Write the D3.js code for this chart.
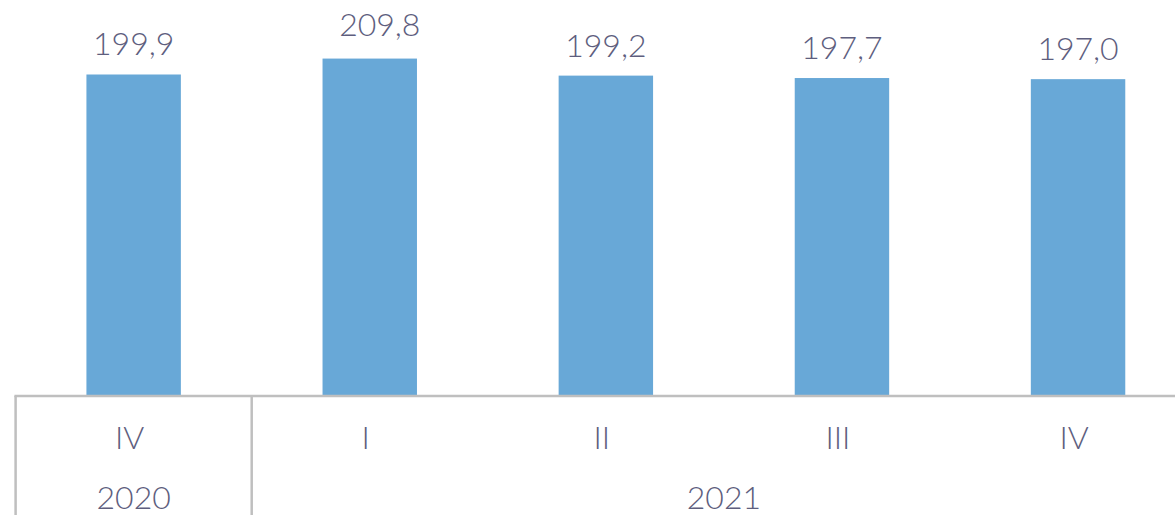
<!DOCTYPE html>
<html>
<head>
<meta charset="utf-8">
<script src="https://cdn.jsdelivr.net/npm/d3@7"></script>
<style>
  html, body { margin: 0; padding: 0; background: #fff; }
  svg { display: block; }
  text { font-family: Lato, "Open Sans", sans-serif; font-weight: 300; fill: #5e5e7e; }
</style>
</head>
<body>
<svg width="1175" height="515"></svg>
<script>
const quarters = ["IV", "I", "II", "III", "IV"]
const values = [199.9, 209.8, 199.2, 197.7, 197.0]
const yearGroups = [
  { year: "2020", from: 0, to: 0 },
  { year: "2021", from: 1, to: 4 },
]

const svg = d3.select("svg")
const width = +svg.attr("width")
const height = +svg.attr("height")

const left = 15.6
const baseline = 396
const step = 236.1

const keys = values.map((v, i) => i)

const x = d3.scaleBand()
  .domain(keys)
  .range([left, left + step * keys.length])
  .paddingInner(0.6)
  .paddingOuter(0.3)

const y = d3.scaleLinear()
  .domain([0, 240])
  .range([baseline, 10])

const fmt = v => d3.format(".1f")(v).replace(".", ",")

// bars
svg.append("g")
  .selectAll("rect")
  .data(values)
  .join("rect")
    .attr("x", (d, i) => x(i))
    .attr("y", d => y(d))
    .attr("width", x.bandwidth())
    .attr("height", d => y(0) - y(d))
    .attr("fill", "#68a8d7")

// value labels (the 2nd one sits a bit higher and to the right, like the original)
svg.append("g")
  .selectAll("text")
  .data(values)
  .join("text")
    .attr("x", (d, i) => x(i) + x.bandwidth() / 2 + (i === 1 ? 10 : 0))
    .attr("y", (d, i) => y(d) - (i === 1 ? 23 : 19))
    .attr("text-anchor", "middle")
    .attr("font-size", 32)
    .text(fmt)

// axis line and group dividers
const axis = svg.append("g")
  .attr("stroke", "#bfbfbf")
  .attr("stroke-width", 2.5)

axis.append("line")
  .attr("x1", left - 1.2)
  .attr("x2", width)
  .attr("y1", baseline)
  .attr("y2", baseline)

// divider on the left edge of each year group
const dividerX = yearGroups.map(g =>
  g.from === 0 ? left : x(g.from) - x.step() * x.paddingInner() / 2)

axis.selectAll(".divider")
  .data(dividerX)
  .join("line")
    .attr("class", "divider")
    .attr("x1", d => d)
    .attr("x2", d => d)
    .attr("y1", baseline)
    .attr("y2", height)

// quarter labels
svg.append("g")
  .selectAll("text")
  .data(quarters)
  .join("text")
    .attr("x", (d, i) => x(i) + x.bandwidth() / 2 - 4)
    .attr("y", 449)
    .attr("text-anchor", "middle")
    .attr("font-size", 32)
    .text(d => d)

// year labels
svg.append("g")
  .selectAll("text")
  .data(yearGroups)
  .join("text")
    .attr("x", g => (x(g.from) + x(g.to) + x.bandwidth()) / 2)
    .attr("y", 509)
    .attr("text-anchor", "middle")
    .attr("font-size", 32)
    .text(g => g.year)
</script>
</body>
</html>
